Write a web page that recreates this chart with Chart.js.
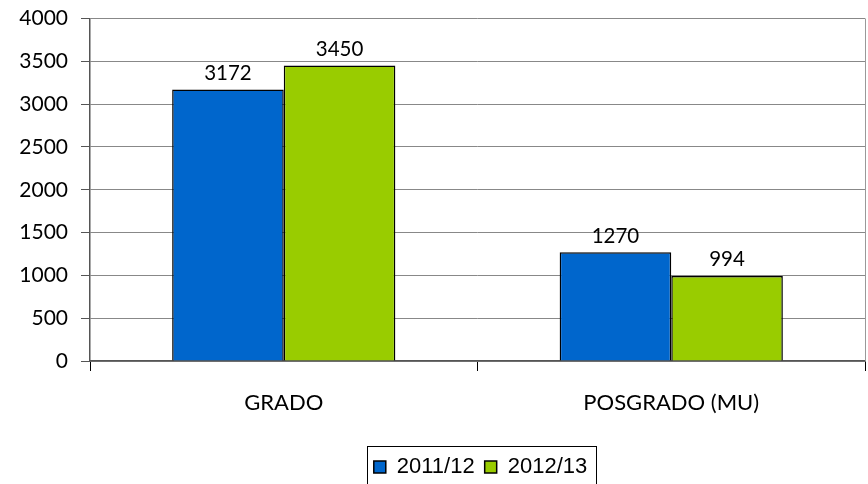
<!DOCTYPE html>
<html>
<head>
<meta charset="utf-8">
<script src="https://cdn.jsdelivr.net/npm/chart.js@4/dist/chart.umd.min.js"></script>
<style>
  html, body { margin: 0; padding: 0; background: #fff; }
  #wrap { width: 868px; height: 484px; }
</style>
</head>
<body>
<div id="wrap"><canvas id="grafico"></canvas></div>
<script>
const categorias = ["GRADO", "POSGRADO (MU)"];
const series = ["2011/12", "2012/13"];
const valores2011 = [3172, 1270];
const valores2012 = [3450, 994];
const ticksY = [0, 500, 1000, 1500, 2000, 2500, 3000, 3500, 4000];

const fuente = "Lato, 'Open Sans', sans-serif";

// etiquetas encima de cada barra
const etiquetasBarras = {
    id: "etiquetasBarras",
    afterDatasetsDraw(chart) {
        let ctx = chart.ctx;
        ctx.save();
        ctx.font = "20.5px " + fuente;
        ctx.fillStyle = "#000";
        ctx.textAlign = "center";
        ctx.textBaseline = "middle";
        chart.data.datasets.forEach(function (ds, i) {
            chart.getDatasetMeta(i).data.forEach(function (bar, j) {
                ctx.fillText(ds.data[j], bar.x, bar.y - 16);
            });
        });
        ctx.restore();
    }
};

// leyenda desplazada, con marco, y borde derecho del area de trazado
const marcoLeyenda = {
    id: "marcoLeyenda",
    afterLayout(chart) {
        let lg = chart.legend;
        lg.left += 48; lg.right += 48;
        lg.top += 4; lg.bottom += 4;
    },
    afterDraw(chart) {
        let ctx = chart.ctx;
        let area = chart.chartArea;
        ctx.save();
        ctx.strokeStyle = "#999";
        ctx.lineWidth = 1;
        ctx.beginPath();
        ctx.moveTo(area.right + 0.5, area.top);
        ctx.lineTo(area.right + 0.5, area.bottom);
        ctx.stroke();
        ctx.strokeStyle = "#000";
        ctx.strokeRect(367.5, 446.5, 229, 50);
        ctx.restore();
    }
};

new Chart(document.getElementById("grafico").getContext("2d"), {
    type: "bar",
    data: {
        labels: categorias,
        datasets: [{
            label: series[0],
            data: valores2011,
            backgroundColor: "#0066CC",
            borderColor: "#000",
            borderWidth: 1.5,
            categoryPercentage: 0.576,
            barPercentage: 1
        }, {
            label: series[1],
            data: valores2012,
            backgroundColor: "#99CC00",
            borderColor: "#000",
            borderWidth: 1.5,
            categoryPercentage: 0.576,
            barPercentage: 1
        }]
    },
    options: {
        responsive: true,
        maintainAspectRatio: false,
        animation: false,
        layout: { padding: { top: 18.5, right: 3, bottom: 0, left: 0 } },
        plugins: {
            tooltip: { enabled: false },
            legend: {
                position: "bottom",
                labels: {
                    font: { family: "'Liberation Sans', Arial, sans-serif", size: 22 },
                    color: "#000",
                    boxWidth: 12,
                    boxHeight: 12,
                    padding: 10
                }
            }
        },
        scales: {
            x: {
                afterFit: function (axis) { axis.height = 81; },
                grid: {
                    display: true,
                    drawOnChartArea: false,
                    drawTicks: true,
                    offset: true,
                    tickLength: 10,
                    color: "#000"
                },
                border: { color: "#555", width: 1.5 },
                ticks: {
                    font: { family: fuente, size: 22 },
                    color: "#000",
                    padding: 19
                }
            },
            y: {
                min: 0,
                max: 4000,
                afterFit: function (axis) {
                    axis.width = 90;
                    axis.paddingTop = 0;
                    axis.paddingBottom = 0;
                },
                afterBuildTicks: function (axis) {
                    axis.ticks = ticksY.map(function (v) { return { value: v }; });
                },
                grid: {
                    color: "#888",
                    tickLength: 9,
                    tickColor: "#555"
                },
                border: { color: "#555", width: 1.5 },
                ticks: {
                    font: { family: fuente, size: 21 },
                    color: "#000",
                    padding: 13,
                    callback: function (v) { return String(v); }
                }
            }
        }
    },
    plugins: [etiquetasBarras, marcoLeyenda]
});
</script>
</body>
</html>
